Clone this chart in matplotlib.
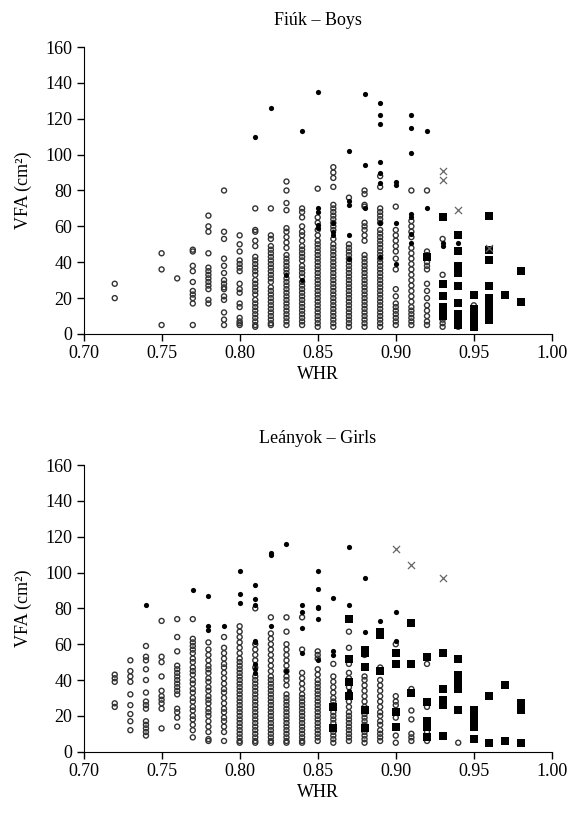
import matplotlib
matplotlib.use("Agg")
import matplotlib.pyplot as plt
from matplotlib.ticker import FormatStrFormatter

plt.rcParams["font.family"] = ["Liberation Serif", "DejaVu Serif"]
plt.rcParams["font.size"] = 13

# VFA values (cm2) read per WHR column
# open circles / filled circles / filled squares / crosses

boys_open = {
    0.72: [28, 20],
    0.75: [45, 36, 5],
    0.76: [31],
    0.77: [47, 46, 38, 35, 29, 24, 22, 20, 17, 5],
    0.78: [66, 60, 57, 45, 37, 35, 33, 31, 29, 27, 25, 19, 17],
    0.79: [80, 57, 53, 42, 38, 34, 30, 28, 26, 25, 21, 19, 12, 8, 5],
    0.80: [55, 50, 46, 41, 39, 37, 35, 28, 25, 23, 17, 15, 9, 7, 6, 5],
    0.81: [70, 58, 57, 52, 49, 43, 41, 39, 37, 35, 33, 30, 28, 26, 24, 22, 19, 17,
           15, 13, 11, 9, 7, 5, 4],
    0.82: [70, 55, 53, 49, 47, 45, 43, 41, 39, 37, 35, 33, 31, 29, 26, 24, 22, 20,
           18, 16, 14, 12, 10, 8, 6, 5],
    0.83: [85, 80, 73, 69, 59, 57, 54, 51, 48, 44, 42, 40, 38, 36, 34, 31, 29, 27,
           25, 23, 21, 19, 17, 15, 13, 11, 9, 7, 5],
    0.84: [70, 68, 65, 60, 57, 55, 52, 49, 47, 45, 43, 41, 38, 36, 34, 32, 29, 27,
           25, 23, 21, 19, 17, 15, 13, 11, 9, 7, 5],
    0.85: [81, 65, 62, 58, 55, 52, 50, 48, 46, 44, 42, 40, 38, 36, 34, 32, 30, 28,
           26, 24, 22, 20, 18, 16, 14, 12, 10, 8, 6, 4],
    0.86: [93, 90, 87, 82, 72, 70, 68, 66, 64, 62, 60, 58, 53, 50, 48, 46, 44, 42,
           40, 38, 36, 34, 32, 30, 28, 26, 24, 22, 20, 18, 16, 14, 12, 10, 8, 6, 4],
    0.87: [76, 50, 48, 46, 44, 42, 40, 38, 36, 34, 32, 30, 28, 26, 24, 22, 20, 18,
           16, 14, 12, 10, 8, 6, 4],
    0.88: [80, 78, 72, 71, 62, 60, 58, 55, 52, 44, 42, 40, 38, 36, 34, 32, 30, 28,
           26, 24, 22, 20, 18, 16, 14, 12, 10, 8, 6, 4],
    0.89: [88, 82, 70, 68, 66, 64, 62, 58, 56, 54, 52, 50, 48, 46, 44, 42, 40, 38,
           36, 34, 32, 30, 28, 26, 24, 22, 20, 18, 16, 14, 12, 10, 8, 6, 4],
    0.90: [71, 58, 55, 52, 49, 46, 42, 36, 25, 21, 17, 15, 13, 11, 9, 7, 5],
    0.91: [80, 63, 60, 57, 54, 48, 45, 42, 39, 36, 33, 30, 27, 24, 21, 18, 15, 13,
           11, 9, 7, 5],
    0.92: [80, 46, 44, 40, 38, 36, 28, 24, 20, 16, 13, 10, 7, 5],
    0.93: [53, 33, 8, 6, 4],
    0.94: [4],
    0.95: [16],
}
boys_filled = {
    0.81: [110],
    0.82: [126],
    0.83: [33],
    0.84: [113, 30],
    0.85: [135, 70, 68, 61, 59],
    0.86: [62, 57, 55],
    0.87: [102, 74, 72, 55, 42],
    0.88: [134, 94, 70],
    0.89: [129, 122, 117, 96, 90, 84, 62, 43],
    0.90: [85, 83, 62, 39],
    0.91: [122, 115, 101, 67, 65, 56, 51],
    0.92: [113, 70],
    0.93: [51, 49],
    0.94: [51],
}
boys_square = {
    0.92: [43],
    0.93: [65, 28, 21, 15, 12, 10],
    0.94: [55, 46, 38, 36, 34, 27, 17, 11, 9, 7, 5],
    0.95: [22, 14, 12, 10, 8, 6, 4],
    0.96: [66, 47, 41, 27, 20, 17, 14, 11, 8],
    0.97: [22],
    0.98: [35, 18],
}
boys_cross = {
    0.93: [91, 86],
    0.94: [69],
    0.96: [48],
}

girls_open = {
    0.72: [43, 41, 39, 27, 25],
    0.73: [51, 45, 42, 39, 32, 26, 21, 17, 12],
    0.74: [59, 53, 51, 46, 40, 33, 28, 26, 24, 17, 15, 13, 11, 9],
    0.75: [73, 53, 50, 42, 34, 31, 29, 27, 24, 13],
    0.76: [74, 64, 56, 48, 46, 44, 42, 40, 38, 36, 34, 32, 24, 22, 19, 14],
    0.77: [74, 63, 61, 59, 57, 55, 52, 50, 47, 45, 43, 40, 38, 35, 33, 30, 28, 25,
           23, 20, 18, 15, 12, 8],
    0.78: [61, 57, 54, 51, 48, 46, 44, 41, 39, 36, 34, 31, 29, 27, 24, 22, 20, 17,
           14, 11, 7, 6],
    0.79: [64, 58, 55, 52, 49, 47, 44, 41, 38, 35, 33, 30, 27, 24, 22, 19, 17, 14,
           11, 6],
    0.80: [70, 67, 64, 61, 58, 55, 52, 50, 48, 46, 44, 42, 40, 38, 36, 34, 32, 30,
           28, 26, 24, 22, 20, 18, 16, 14, 12, 10, 8, 6, 5],
    0.81: [80, 60, 57, 54, 51, 47, 42, 40, 38, 36, 34, 32, 30, 28, 26, 24, 22, 20,
           18, 16, 14, 12, 10, 8, 6, 5],
    0.82: [75, 66, 63, 60, 57, 54, 51, 48, 45, 42, 40, 38, 36, 34, 32, 30, 28, 26,
           24, 22, 20, 18, 16, 14, 12, 10, 8, 6, 5],
    0.83: [75, 67, 60, 57, 54, 51, 48, 45, 42, 40, 37, 32, 30, 28, 26, 24, 22, 20,
           18, 16, 14, 12, 10, 8, 6, 5],
    0.84: [75, 57, 44, 41, 38, 35, 32, 30, 28, 26, 24, 22, 20, 18, 16, 14, 12, 10,
           8, 6, 5],
    0.85: [56, 54, 52, 46, 43, 40, 38, 36, 34, 32, 30, 28, 26, 24, 22, 20, 18, 16,
           14, 12, 10, 8, 6],
    0.86: [49, 42, 39, 36, 33, 30, 28, 26, 22, 20, 18, 16, 11, 9, 7, 5],
    0.87: [67, 58, 49, 44, 41, 36, 28, 25, 22, 20, 18, 16, 14, 12, 10, 8, 6],
    0.88: [54, 42, 40, 37, 34, 31, 28, 25, 21, 19, 17, 15, 11, 9, 7, 5],
    0.89: [47, 40, 37, 34, 31, 28, 25, 22, 20, 17, 15, 12, 10, 8, 6],
    0.90: [60, 31, 28, 26, 19, 9, 5],
    0.91: [35, 23, 18, 10, 8, 6],
    0.92: [49, 25, 11, 6],
    0.94: [5],
}
girls_filled = {
    0.74: [82],
    0.77: [90],
    0.78: [87, 70, 68],
    0.79: [70],
    0.80: [101, 88, 83],
    0.81: [93, 85, 82, 62, 61, 49, 46, 44],
    0.82: [111, 110, 70],
    0.83: [116, 45],
    0.84: [82, 78, 69, 55],
    0.85: [101, 91, 81, 80, 74, 51],
    0.86: [86, 56, 54],
    0.87: [114, 82, 34],
    0.88: [97, 67],
    0.89: [73],
    0.90: [78, 62],
}
girls_square = {
    0.86: [25, 13],
    0.87: [74, 52, 39, 31],
    0.88: [57, 55, 47, 23, 13],
    0.89: [67, 65, 45],
    0.90: [55, 49, 22, 14],
    0.91: [72, 49, 33],
    0.92: [53, 28, 17, 14, 8],
    0.93: [55, 35, 29, 26, 9],
    0.94: [52, 43, 39, 35, 23],
    0.95: [23, 19, 17, 14, 7],
    0.96: [31, 5],
    0.97: [37, 6],
    0.98: [27, 23, 5],
}
girls_cross = {
    0.90: [113],
    0.91: [104],
    0.93: [97],
}

x_ticks = [0.70, 0.75, 0.80, 0.85, 0.90, 0.95, 1.00]
y_ticks = [0, 20, 40, 60, 80, 100, 120, 140, 160]


def flatten(cols):
    xs, ys = [], []
    for whr, vals in cols.items():
        for v in vals:
            xs.append(whr)
            ys.append(v)
    return xs, ys


def draw_panel(ax, title, open_pts, filled_pts, square_pts, cross_pts):
    x, y = flatten(open_pts)
    ax.scatter(x, y, s=13, facecolors="none", edgecolors="#333333", linewidths=1.0)
    x, y = flatten(filled_pts)
    ax.scatter(x, y, s=14, color="black", linewidths=0)
    x, y = flatten(square_pts)
    ax.scatter(x, y, s=28, marker="s", color="black", linewidths=0)
    x, y = flatten(cross_pts)
    ax.scatter(x, y, s=26, marker="x", color="#666666", linewidths=0.9)

    ax.set_xlim(0.70, 1.00)
    ax.set_ylim(0, 160)
    ax.set_xticks(x_ticks)
    ax.set_yticks(y_ticks)
    ax.xaxis.set_major_formatter(FormatStrFormatter("%.2f"))
    ax.spines["top"].set_visible(False)
    ax.spines["right"].set_visible(False)
    ax.tick_params(direction="out", length=5, width=1, pad=3)
    ax.set_title(title, fontsize=13, pad=16)
    ax.set_xlabel("WHR", fontsize=13, labelpad=3)
    ax.set_ylabel("VFA (cm²)", fontsize=13, labelpad=10)


fig = plt.figure(figsize=(5.74, 8.16), dpi=100)
ax1 = fig.add_axes([0.1455, 0.5907, 0.816, 0.3517])
ax2 = fig.add_axes([0.1455, 0.0788, 0.816, 0.3513])

draw_panel(ax1, "Fiúk – Boys", boys_open, boys_filled, boys_square, boys_cross)
draw_panel(ax2, "Leányok – Girls", girls_open, girls_filled, girls_square, girls_cross)

fig.savefig("out.png", dpi=100)
